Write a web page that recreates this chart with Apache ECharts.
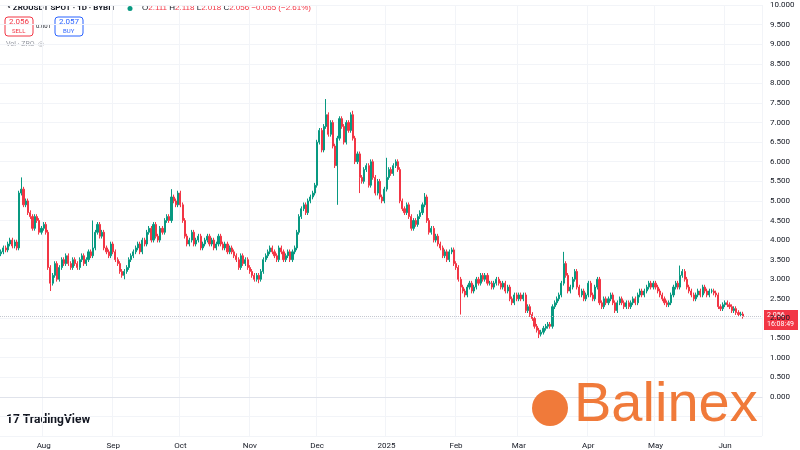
<!DOCTYPE html>
<html><head><meta charset="utf-8">
<script src="https://cdn.jsdelivr.net/npm/echarts@6/dist/echarts.min.js"></script>
<style>html,body{margin:0;padding:0;background:#fff}#c{width:800px;height:450px}</style>
</head><body><div id="c"></div>
<script>
const startDate = '2024-07-13';
const firstOpen = 3.65;
const closes = [
3.7,3.8,3.75,3.9,4.0,3.85,3.95,3.8,
5.2,5.3,4.9,5.0,4.7,4.6,4.3,4.6,4.5,4.2,4.3,4.4,4.2,
3.3,2.9,3.1,3.4,3.0,3.3,3.5,3.4,3.6,3.4,3.3,3.5,3.4,3.3,3.5,3.6,3.4,3.5,3.7,3.6,3.8,4.2,4.4,
4.1,4.2,3.8,3.7,3.6,3.9,3.7,3.5,3.4,3.2,3.1,3.2,
3.3,3.5,3.6,3.7,3.8,3.9,3.7,4.0,3.9,4.2,4.3,4.0,4.4,4.1,4.0,4.3,4.2,4.5,4.6,4.5,
5.1,5.0,4.9,5.2,4.9,4.5,
4.1,3.9,4.0,4.2,3.9,4.0,4.1,3.8,3.9,4.0,4.1,3.9,4.0,3.8,3.9,4.1,3.9,3.8,3.9,3.7,3.8,3.7,
3.6,3.5,3.3,3.6,3.4,3.5,3.3,3.2,3.1,3.0,3.1,3.0,
3.2,3.5,3.6,3.7,3.8,3.7,3.6,3.5,3.8,3.7,3.5,3.6,3.7,3.5,3.7,3.8,4.2,
4.6,4.8,4.9,4.7,5.0,5.1,5.2,5.4,
6.5,6.8,6.3,6.9,7.2,6.7,7.0,6.4,5.9,6.6,7.1,6.9,6.5,7.0,6.8,7.2,6.6,6.0,6.2,
5.6,5.5,5.8,5.9,5.4,6.0,5.6,5.2,5.5,5.1,5.0,5.3,5.6,5.8,5.7,5.9,6.0,5.8,
5.0,4.8,4.7,4.9,4.6,4.3,4.5,4.4,4.6,4.7,4.9,5.1,4.5,4.2,4.3,4.0,4.1,3.9,3.8,3.6,3.7,3.5,
3.7,3.75,3.4,3.3,3.0,2.8,2.7,2.6,2.8,2.9,2.7,2.8,3.0,2.9,3.1,3.0,3.1,2.9,2.9,2.8,2.9,3.0,2.9,2.8,2.9,2.7,2.8,
2.5,2.4,2.6,2.5,2.6,2.5,2.6,2.2,2.3,2.1,2.0,1.8,1.7,1.6,1.65,1.75,1.8,1.85,1.8,2.3,
2.4,2.5,2.6,2.9,3.4,3.1,2.7,2.8,3.0,3.2,2.8,2.6,2.7,2.5,2.6,2.9,2.6,2.5,2.8,3.0,
2.4,2.3,2.5,2.4,2.5,2.6,2.4,2.2,2.4,2.5,2.4,2.3,2.4,2.3,2.4,2.5,2.4,2.6,2.7,2.6,2.7,2.8,2.9,2.8,
2.9,2.8,2.7,2.6,2.5,2.4,2.35,2.4,2.6,2.8,2.9,2.8,3.1,3.2,
3.0,2.8,2.7,2.6,2.5,2.6,2.7,2.6,2.8,2.7,2.6,2.7,2.7,2.65,2.6,
2.3,2.25,2.35,2.4,2.35,2.3,2.2,2.25,2.15,2.1,2.111,2.056
];
// notable wick extremes: [dayIndex, high] / [dayIndex, low]
const wickHighs = [[9,5.6],[76,5.3],[145,7.6],[157,7.3],[189,5.2],[251,3.7],[303,3.35],[41,4.5],[172,6.1]];
const wickLows = [[22,2.7],[150,4.9],[205,2.1],[240,1.5],[55,3.0],[115,2.9],[160,5.2]];
const emptyDays = 8;
const yTicks = [-1,10,0.5];
const lastPrice = 2.056;

const hiMap = Object.fromEntries(wickHighs), loMap = Object.fromEntries(wickLows);
const dates = [], ohlc = [];
const d0 = new Date(startDate + 'T00:00:00Z');
for (let i = 0; i < closes.length + emptyDays; i++) {
  const d = new Date(d0.getTime() + i * 86400000);
  dates.push(d.toISOString().slice(0, 10));
}
closes.forEach((c, i) => {
  const o = i === 0 ? firstOpen : closes[i - 1];
  const hi = hiMap[i] !== undefined ? hiMap[i] : Math.max(o, c) + 0.06;
  const lo = loMap[i] !== undefined ? loMap[i] : Math.min(o, c) - 0.06;
  ohlc.push([o, c, lo, hi]);
});
const months = ['Jan','Feb','Mar','Apr','May','Jun','Jul','Aug','Sep','Oct','Nov','Dec'];
const chart = echarts.init(document.getElementById('c'));
const grey = '#131722';
chart.setOption({
  animation: false,
  grid: { left: 0, right: 38, top: 5, bottom: 14 },
  xAxis: {
    type: 'category', data: dates, boundaryGap: true,
    axisLine: { lineStyle: { color: '#e0e3eb' } }, axisTick: { show: false },
    axisLabel: {
      interval: (i, v) => v.slice(8) === '01', color: grey, fontSize: 8, margin: 6,
      fontFamily: 'Roboto',
      formatter: v => { const m = +v.slice(5, 7); return m === 1 ? v.slice(0, 4) : months[m - 1]; }
    },
    splitLine: { show: true, interval: (i, v) => v.slice(8) === '01', lineStyle: { color: '#f2f4f8' } }
  },
  yAxis: {
    type: 'value', position: 'right', min: yTicks[0], max: yTicks[1], interval: yTicks[2],
    axisLine: { show: false }, axisTick: { show: false },
    axisLabel: { color: grey, fontSize: 8, fontFamily: 'Roboto', margin: 8,
      formatter: v => v < 0 ? '' : v.toFixed(3) },
    splitLine: { lineStyle: { color: '#f2f4f8' } }
  },
  series: [{
    type: 'candlestick', data: ohlc, barWidth: 1.6,
    itemStyle: { color: '#089981', color0: '#f23645', borderColor: '#089981', borderColor0: '#f23645', borderWidth: 1 },
    markLine: {
      symbol: 'none', silent: true, label: { show: false },
      lineStyle: { color: '#c4c7cf', type: 'dotted', width: 1 },
      data: [{ yAxis: lastPrice }]
    }
  }],
  graphic: [
    { type: 'text', left: 6, top: 4, style: { text: '◔ ZROUSDT SPOT · 1D · BYBIT', fontSize: 8, fontWeight: 'bold', fill: grey, fontFamily: 'Roboto' } },
    { type: 'circle', shape: { cx: 130, cy: 8.5, r: 2.5 }, style: { fill: '#089981' } },
    { type: 'text', left: 142, top: 4, style: { rich: { k: { fill: grey, fontSize: 8 }, v: { fill: '#f23645', fontSize: 8 } },
      text: '{k|O}{v|2.111 }{k|H}{v|2.118 }{k|L}{v|2.018 }{k|C}{v|2.056 −0.055 (−2.61%)}', fontFamily: 'Roboto' } },
    { type: 'rect', shape: { x: 5, y: 17, width: 28, height: 19, r: 3 }, style: { fill: '#fff', stroke: '#f23645', lineWidth: 1 } },
    { type: 'text', left: 9, top: 18, style: { text: '2.056', fill: '#f23645', fontSize: 8, fontFamily: 'Roboto' } },
    { type: 'text', left: 12, top: 28, style: { text: 'SELL', fill: '#f23645', fontSize: 6, fontFamily: 'Roboto' } },
    { type: 'text', left: 36, top: 23, style: { text: '0.001', fill: grey, fontSize: 6, fontFamily: 'Roboto' } },
    { type: 'rect', shape: { x: 55, y: 17, width: 28, height: 19, r: 3 }, style: { fill: '#fff', stroke: '#2962ff', lineWidth: 1 } },
    { type: 'text', left: 59, top: 18, style: { text: '2.057', fill: '#2962ff', fontSize: 8, fontFamily: 'Roboto' } },
    { type: 'text', left: 63, top: 28, style: { text: 'BUY', fill: '#2962ff', fontSize: 6, fontFamily: 'Roboto' } },
    { type: 'text', left: 6, top: 41, style: { text: 'Vol · ZRO  ◎', fill: '#9598a1', fontSize: 7, fontFamily: 'Roboto' } },
    { type: 'rect', shape: { x: 764, y: 310, width: 34, height: 20 }, style: { fill: '#f23645' } },
    { type: 'text', left: 767, top: 311, style: { text: '2.056\n16:08:49', fill: '#fff', fontSize: 7, lineHeight: 9, fontFamily: 'Roboto' } },
    { type: 'text', left: 6, top: 414, style: { text: '17 TradingView', fill: grey, fontSize: 12, fontWeight: 'bold', fontFamily: 'Roboto' } },
    { type: 'text', left: 574, top: 378, z: 10, style: { text: 'Balinex', fill: '#f07a3a', fontSize: 56, fontFamily: 'Liberation Sans' } },
    { type: 'circle', shape: { cx: 550, cy: 408, r: 18 }, z: 10, style: { fill: '#f07a3a' } }
  ]
});
</script></body></html>
